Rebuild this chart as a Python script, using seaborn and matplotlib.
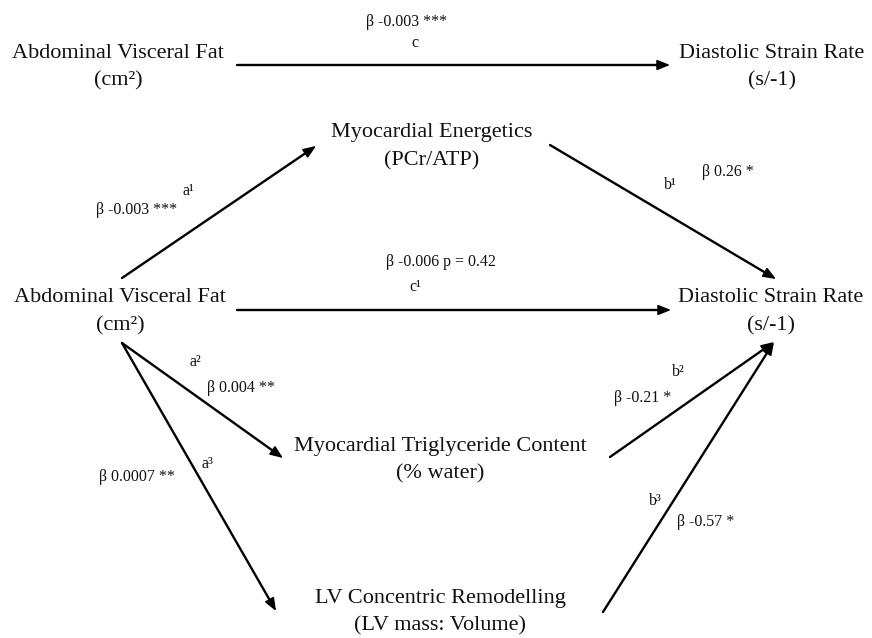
import numpy as np
import pandas as pd
import matplotlib
matplotlib.use("Agg")
import matplotlib.pyplot as plt
import seaborn as sns

# ── Data: variables and mediation paths ──────────────────────────────────
node_names = ["Abdominal Visceral Fat", "Diastolic Strain Rate",
              "Myocardial Energetics", "Myocardial Triglyceride Content",
              "LV Concentric Remodelling"]
node_units = ["(cm²)", "(s/-1)", "(PCr/ATP)", "(% water)", "(LV mass: Volume)"]

path_names = ["c", "a¹", "b¹", "c¹", "a²", "b²", "a³", "b³"]
path_beta = ["-0.003", "-0.003", "0.26", "-0.006", "0.004", "-0.21", "0.0007", "-0.57"]
path_sig = ["***", "***", "*", "p = 0.42", "**", "*", "**", "*"]

# ── Layout (pixel space, y downwards) ────────────────────────────────────
# which node is drawn where (node index, x centre, y of first line)
node_places = [(0, 118, 53), (1, 772, 53),
               (0, 120, 298), (1, 771, 298),
               (2, 432, 133), (3, 440, 446), (4, 440, 598)]
LINE_GAP = 28

edge_geom = [((237, 65), (670, 65)),      # c
             ((122, 278), (316, 146)),    # a1
             ((550, 145), (776, 279)),    # b1
             ((237, 310), (671, 310)),    # c1
             ((122, 343), (283, 458)),    # a2
             ((610, 457), (774, 342)),    # b2
             ((122, 343), (276, 611)),    # a3
             ((603, 612), (774, 342))]    # b3

# (path letter pos, beta label pos)
label_pos = [((415, 43), (407, 22)),
             ((188, 191), (137, 210)),
             ((670, 185), (728, 172)),
             ((415, 287), (441, 262)),
             ((195, 362), (241, 388)),
             ((678, 372), (643, 398)),
             ((207, 464), (137, 477)),
             ((655, 501), (706, 522))]

sns.set_theme(style="white")
plt.rcParams["font.family"] = ["Liberation Serif", "DejaVu Serif"]

fig = plt.figure(figsize=(8.72, 6.38), dpi=100)
ax = fig.add_axes([0, 0, 1, 1])

# shafts via seaborn, stopping just short of the tip
rows = []
for i, (start, end) in enumerate(edge_geom):
    s, e = np.array(start, float), np.array(end, float)
    u = (e - s) / np.linalg.norm(e - s)
    e_short = e - 6 * u
    rows.append({"edge": path_names[i], "x": s[0], "y": s[1]})
    rows.append({"edge": path_names[i], "x": e_short[0], "y": e_short[1]})
shafts = pd.DataFrame(rows)
sns.lineplot(data=shafts, x="x", y="y", units="edge", estimator=None,
             sort=False, color="black", lw=1.7, legend=False, ax=ax)

# arrow heads
for start, end in edge_geom:
    s, e = np.array(start, float), np.array(end, float)
    u = (e - s) / np.linalg.norm(e - s)
    tail = e - 12 * u
    ax.annotate("", xy=tuple(e), xytext=tuple(tail),
                arrowprops=dict(arrowstyle="-|>,head_length=0.55,head_width=0.22",
                                color="black", lw=1.2, shrinkA=0, shrinkB=0,
                                mutation_scale=14))

# node labels
for idx, x, y in node_places:
    ax.text(x, y, node_names[idx], ha="center", va="center", fontsize=16,
            color="#111111")
    ax.text(x, y + LINE_GAP, node_units[idx], ha="center", va="center",
            fontsize=16, color="#111111")

# path labels
for i, ((lx, ly), (bx, by)) in enumerate(label_pos):
    ax.text(lx, ly, path_names[i], ha="center", va="center", fontsize=11.5,
            color="#111111")
    ax.text(bx, by, f"β {path_beta[i]} {path_sig[i]}", ha="center",
            va="center", fontsize=11.5, color="#111111")

ax.set_xlim(0, 872)
ax.set_ylim(638, 0)
ax.axis("off")

fig.savefig("out.png", dpi=100, facecolor="white")
plt.close(fig)
